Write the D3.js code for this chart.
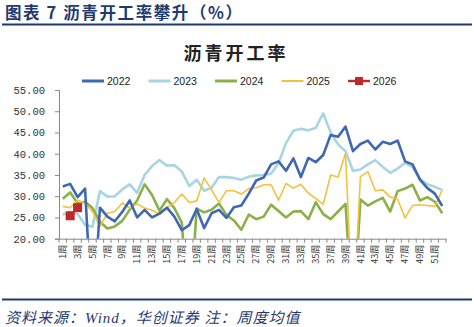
<!DOCTYPE html>
<html><head><meta charset="utf-8">
<script src="https://cdn.jsdelivr.net/npm/d3@7"></script>
<style>
html,body{margin:0;padding:0;background:#fff;}
svg{display:block;}
</style></head>
<body>
<svg id="c" width="474" height="327"></svg>
<script>
const weeks = d3.range(1, 53).map(d => d + "周");
const years = ["2022", "2023", "2024", "2025", "2026"];
const s2022 = [32.3,32.9,29.8,31.8,0,27.3,25.2,24.1,26.3,29.0,
  25.0,26.8,25.0,25.9,27.3,25.2,22.0,23.2,27.0,22.5,
  26.0,26.8,24.9,27.4,27.8,30.6,33.7,34.4,37.5,38.2,
  36.0,38.9,34.5,39.0,38.0,39.7,44.4,44.0,46.4,40.6,
  42.3,43.1,41.0,42.8,42.3,43.1,38.2,37.5,33.9,31.9,30.6,27.7];
const s2023 = [25.7,26.2,25.8,23.3,22.8,31.2,29.9,30.0,31.6,32.8,
  30.8,35.0,37.1,38.5,37.2,37.3,35.8,32.4,33.9,31.3,
  32.0,34.5,34.5,34.3,33.9,34.6,34.9,35.0,35.3,37.8,
  42.5,45.4,45.9,45.5,46.1,49.5,45.0,42.2,40.6,36.0,
  36.3,37.5,38.5,36.9,35.5,36.5,37.9,36.8,34.1,32.8,32.2,31.5];
const s2024 = [29.4,30.9,28.3,28.7,27.2,24.0,22.4,22.9,24.2,26.8,
  29.0,32.8,30.3,26.6,29.3,27.2,23.8,0,27.1,26.2,
  26.8,28.3,25.6,24.3,22.1,25.7,24.6,25.2,28.0,26.5,
  25.0,26.4,26.5,24.6,28.6,25.8,24.6,26.4,28.2,0,
  29.2,27.8,28.8,29.6,26.4,31.2,31.8,32.7,29.0,29.8,28.7,26.0];
const s2025 = [27.6,27.3,29.1,28.3,26.4,22.9,26.0,26.4,28.4,27.2,
  28.2,27.2,26.7,25.8,27.3,28.5,30.5,28.5,28.9,34.3,
  31.5,28.5,31.3,31.3,30.5,31.8,32.0,32.7,32.7,29.1,
  33.0,31.9,32.8,30.7,29.5,28.1,35.0,34.5,40.1,0,
  34.6,35.8,31.3,31.5,29.8,29.3,24.9,27.8,28.0,27.8,27.6,31.5];
const s2026 = [null,25.4,27.3];
const yTicks = [20,25,30,35,40,45,50,55];

const colors = {"2022":"#4068B0","2023":"#A8D5E2","2024":"#8AB04A","2025":"#F4C13E","2026":"#C0282B"};
const widths = {"2022":2.6,"2023":2.6,"2024":2.6,"2025":1.6,"2026":2};
const seriesData = {"2022":s2022,"2023":s2023,"2024":s2024,"2025":s2025,"2026":s2026};

const svg = d3.select("#c");
const navy = "#1F3A6E";

// header
svg.append("text").attr("x",5).attr("y",19)
  .attr("font-family","'Noto Sans CJK SC'").attr("font-weight",700)
  .attr("font-size",16.5).attr("letter-spacing",1.6).attr("fill",navy)
  .text("图表 7  沥青开工率攀升（%）");
svg.append("line").attr("x1",2).attr("x2",472).attr("y1",24.5).attr("y2",24.5)
  .attr("stroke",navy).attr("stroke-width",2);

svg.append("text").attr("x",236).attr("y",60).attr("text-anchor","middle")
  .attr("font-family","'Noto Sans CJK SC'").attr("font-weight",700)
  .attr("font-size",18).attr("letter-spacing",3).attr("fill","#222")
  .text("沥青开工率");

const x = d3.scaleBand().domain(weeks).range([59, 446]);
const y = d3.scaleLinear().domain([20, 55]).range([238.7, 90]);

// legend
const lg = svg.append("g");
years.forEach((yr, i) => {
  const lx = 82 + i * 66.5;
  const g = lg.append("g").attr("transform", `translate(${lx},81)`);
  g.append("line").attr("x1",0).attr("x2",22).attr("y1",0).attr("y2",0)
    .attr("stroke",colors[yr]).attr("stroke-width",widths[yr]+0.4);
  if (yr === "2026") {
    g.append("rect").attr("x",7).attr("y",-4).attr("width",8).attr("height",8).attr("fill",colors[yr]);
  }
  g.append("text").attr("x",25).attr("y",4).attr("font-family","'Liberation Sans'")
    .attr("font-size",10.5).attr("fill","#222").text(yr);
});

// y axis
const ya = svg.append("g").attr("transform","translate(59,0)")
  .call(d3.axisLeft(y).tickValues(yTicks).tickFormat(d3.format(".2f")).tickSize(4).tickPadding(10));
ya.select(".domain").attr("stroke","#888");
ya.selectAll(".tick line").attr("stroke","#888");
ya.selectAll("text").attr("font-family","'Liberation Mono'").attr("font-size",10.5).attr("fill","#333");

// x axis
const xa = svg.append("g").attr("transform","translate(0,238.7)")
  .call(d3.axisBottom(x).tickValues(weeks.filter((d,i)=>i%2===0)).tickSize(0).tickPadding(0));
xa.select(".domain").attr("stroke","#888");
xa.selectAll("text").attr("font-family","'Noto Sans CJK SC'").attr("font-size",9).attr("fill","#333")
  .attr("transform","rotate(-90)").attr("text-anchor","end").attr("x",-6).attr("y",0).attr("dy","0.35em");
xa.selectAll(".bt").data(weeks.concat(["end"])).enter().append("line")
  .attr("x1", d => d === "end" ? x.range()[1] : x(d))
  .attr("x2", d => d === "end" ? x.range()[1] : x(d))
  .attr("y1",0).attr("y2",4).attr("stroke","#888");

// clip
svg.append("clipPath").attr("id","clip").append("rect")
  .attr("x",59).attr("y",85).attr("width",390).attr("height",238.7-85);

const line = d3.line().defined(d => d.v !== null)
  .x(d => x(d.w) + x.bandwidth()/2).y(d => y(d.v));

const plot = svg.append("g").attr("clip-path","url(#clip)");
["2023","2024","2025","2022"].forEach(yr => {
  const data = seriesData[yr].map((v,i) => ({w: weeks[i], v}));
  plot.append("path").datum(data).attr("d", line).attr("fill","none")
    .attr("stroke",colors[yr]).attr("stroke-width",widths[yr]).attr("stroke-linejoin","round");
});
const d26 = s2026.map((v,i) => ({w: weeks[i], v}));
plot.append("path").datum(d26).attr("d", line).attr("fill","none")
  .attr("stroke",colors["2026"]).attr("stroke-width",2);
plot.selectAll(".m26").data(d26.filter(d => d.v !== null)).enter().append("rect")
  .attr("x", d => x(d.w) + x.bandwidth()/2 - 4.5).attr("y", d => y(d.v) - 4.5)
  .attr("width",9).attr("height",9).attr("fill",colors["2026"]);

// footer
svg.append("line").attr("x1",2).attr("x2",472).attr("y1",299.5).attr("y2",299.5)
  .attr("stroke",navy).attr("stroke-width",2);
svg.append("text").attr("x",5).attr("y",323)
  .attr("font-family","'Liberation Serif','Noto Sans CJK SC'").attr("font-style","italic")
  .attr("font-size",15).attr("letter-spacing",1).attr("fill",navy)
  .text("资料来源：Wind，华创证券 注：周度均值");
</script>
</body></html>
